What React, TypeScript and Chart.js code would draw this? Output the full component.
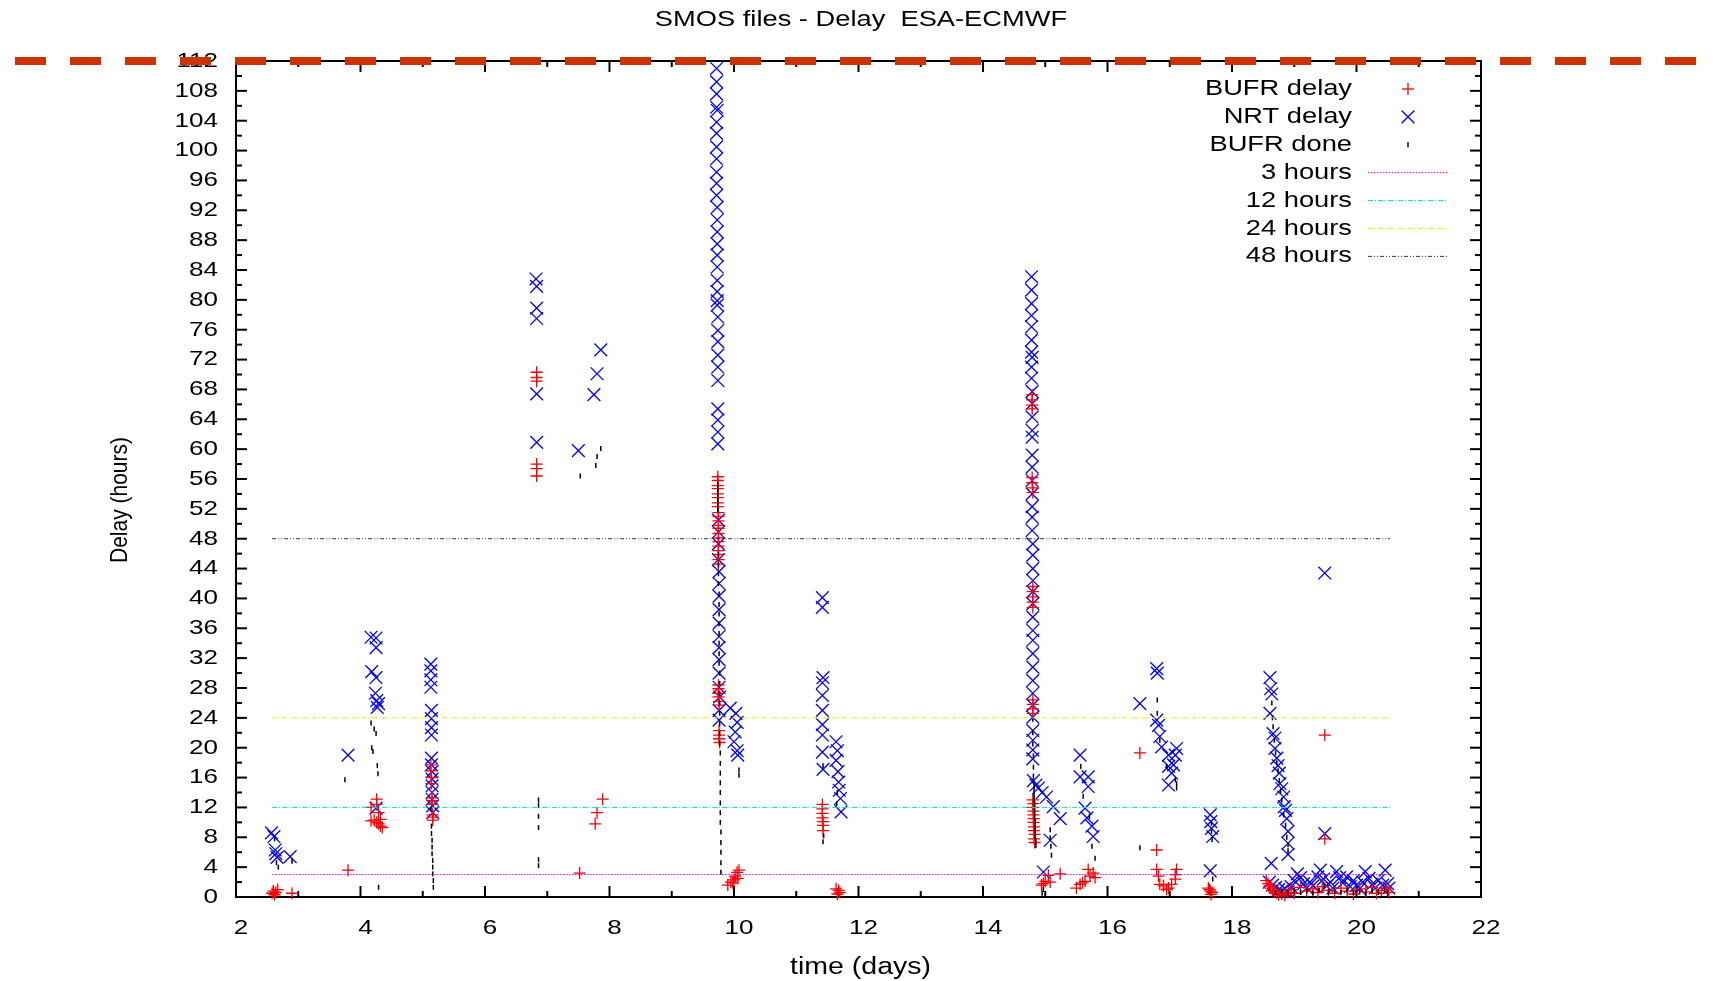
import { useEffect, useRef } from 'react';
import { Chart, registerables } from 'chart.js';

Chart.register(...registerables);

const W = 1714;
const H = 981;
const FONT = '"Liberation Sans", Arial, sans-serif';
const STRETCH = 1.24;

const chartTitle = 'SMOS files - Delay  ESA-ECMWF';
const xTitle = 'time (days)';
const yTitle = 'Delay (hours)';

const xRange = [2, 22];
const yRange = [0, 112];
const xStep = 2;
const yStep = 4;

// BUFR delay (red +)
const bufrDelay: [number, number][] = [
  [2.58, 0.5], [2.6, 0.8], [2.62, 0.3], [2.64, 0.6], [2.67, 1.0], [2.9, 0.5],
  [3.8, 3.6], [4.17, 12.0], [4.26, 13.1], [4.26, 12.4], [4.29, 11.3], [4.32, 10.4], [4.32, 9.5],
  [4.26, 10.0], [4.29, 9.8], [4.35, 9.3], [4.17, 10.2], [4.22, 10.3],
  [5.13, 17.7], [5.13, 16.9], [5.14, 16.0], [5.14, 15.2], [5.15, 13.3], [5.15, 12.9], [5.15, 12.4],
  [5.16, 11.0], [5.16, 10.7], [5.16, 10.3],
  [6.83, 70.3], [6.83, 69.6], [6.83, 69.1], [6.83, 58.0], [6.83, 57.4], [6.83, 56.4],
  [7.52, 3.2], [7.77, 9.8], [7.8, 11.3], [7.89, 13.1],
  [9.74, 56.3], [9.74, 55.8], [9.74, 55.1], [9.74, 54.7], [9.74, 54.0], [9.74, 53.5], [9.74, 52.8],
  [9.74, 52.3], [9.75, 51.5], [9.75, 51.0], [9.75, 50.4], [9.75, 49.8], [9.75, 49.4], [9.75, 48.7],
  [9.75, 48.1], [9.75, 47.6], [9.75, 47.0], [9.75, 46.4], [9.75, 45.9], [9.75, 45.2], [9.75, 44.6],
  [9.75, 28.4], [9.75, 27.9], [9.75, 27.3], [9.75, 26.8], [9.76, 26.2], [9.76, 25.7],
  [9.76, 22.3], [9.76, 21.7], [9.76, 21.2], [9.77, 20.7],
  [9.9, 1.6], [9.95, 2.0], [10.0, 2.3], [10.02, 2.8], [10.05, 3.3], [10.06, 2.5], [10.08, 3.6], [9.98, 1.9],
  [11.42, 12.4], [11.42, 11.8], [11.42, 11.2], [11.42, 10.6], [11.43, 10.1], [11.43, 9.6], [11.43, 8.9],
  [11.64, 1.1], [11.7, 0.6], [11.68, 0.9], [11.66, 0.4],
  [14.79, 67.3], [14.79, 66.6], [14.79, 65.9], [14.79, 65.4], [14.79, 56.2], [14.79, 55.5], [14.8, 54.8],
  [14.8, 54.2], [14.8, 41.6], [14.8, 40.9], [14.8, 40.2], [14.8, 39.5], [14.8, 38.8],
  [14.8, 26.4], [14.8, 25.8], [14.8, 25.2], [14.8, 24.6],
  [14.8, 13.0], [14.81, 12.5], [14.8, 12.0], [14.81, 11.5], [14.81, 11.0], [14.82, 10.5], [14.81, 10.0],
  [14.82, 9.4], [14.82, 8.9], [14.83, 8.4], [14.82, 7.8], [14.83, 7.3],
  [14.94, 1.6], [14.97, 1.8], [15.0, 2.1], [15.05, 2.9], [15.08, 2.0], [15.24, 3.1],
  [15.5, 1.2], [15.56, 1.7], [15.6, 1.9], [15.64, 2.1], [15.69, 3.7], [15.72, 2.8], [15.77, 3.2], [15.8, 2.6],
  [16.52, 19.3], [16.79, 6.3], [16.79, 3.7], [16.82, 2.8], [16.84, 1.7], [16.9, 1.5], [16.98, 1.2],
  [17.03, 1.7], [17.11, 3.7], [17.09, 3.0], [17.09, 2.4], [16.95, 1.0],
  [17.62, 1.2], [17.65, 0.8], [17.66, 0.35], [17.64, 1.0], [17.68, 0.6],
  [19.49, 21.7], [19.49, 7.8],
  [18.55, 2.2], [18.58, 1.8], [18.6, 1.5], [18.62, 1.2], [18.65, 0.9], [18.68, 0.7], [18.72, 0.5],
  [18.75, 0.3], [18.8, 0.4], [18.85, 0.2], [18.9, 0.6], [18.95, 1.0], [19.0, 0.5], [19.1, 1.3],
  [19.2, 0.8], [19.3, 1.1], [19.38, 0.6], [19.45, 1.4], [19.55, 0.9], [19.65, 0.5], [19.75, 1.2],
  [19.85, 0.8], [19.95, 0.4], [20.05, 1.1], [20.15, 0.7], [20.25, 1.3], [20.32, 0.5], [20.4, 0.9],
  [20.48, 1.2], [20.52, 0.6],
];

// NRT delay (blue x)
const nrtDelay: [number, number][] = [
  [2.57, 8.6], [2.61, 8.1], [2.63, 6.3], [2.66, 5.3], [2.64, 5.8], [2.87, 5.4],
  [3.8, 19.0], [4.17, 34.8], [4.25, 34.7], [4.25, 33.4], [4.18, 30.2], [4.25, 29.4], [4.24, 27.3],
  [4.26, 26.3], [4.27, 25.4], [4.29, 25.9], [4.25, 11.9],
  [5.13, 31.2], [5.13, 30.3], [5.13, 29.1], [5.13, 28.1], [5.14, 25.0], [5.14, 23.9], [5.14, 22.7],
  [5.14, 21.7], [5.14, 18.6], [5.14, 17.7], [5.15, 16.8], [5.15, 15.8], [5.15, 14.9], [5.15, 14.0],
  [5.15, 13.1], [5.16, 12.2], [5.16, 11.3],
  [6.82, 82.8], [6.83, 81.8], [6.83, 78.9], [6.83, 77.5], [6.83, 67.4], [6.83, 60.9],
  [7.5, 59.8], [7.75, 67.3], [7.8, 70.1], [7.86, 73.3],
  [9.72, 111.0], [9.72, 109.2], [9.72, 107.6], [9.72, 105.8], [9.73, 105.4], [9.72, 103.8], [9.72, 102.3],
  [9.72, 100.5], [9.72, 98.9], [9.72, 97.1], [9.72, 95.6], [9.72, 94.0], [9.73, 92.4], [9.73, 90.7],
  [9.73, 89.1], [9.73, 87.5], [9.73, 86.0], [9.73, 84.4], [9.73, 82.6], [9.73, 81.1], [9.73, 79.9],
  [9.73, 79.3], [9.74, 77.7], [9.74, 75.9], [9.74, 74.4], [9.74, 72.6], [9.74, 71.0], [9.74, 69.2],
  [9.74, 65.4], [9.74, 63.9], [9.74, 62.3], [9.74, 60.7],
  [9.75, 50.5], [9.75, 48.9], [9.75, 47.3], [9.75, 45.2], [9.76, 43.6], [9.76, 42.0], [9.76, 40.3],
  [9.76, 38.5], [9.76, 36.7], [9.76, 34.9], [9.76, 33.4], [9.76, 31.8], [9.76, 30.0], [9.76, 28.1],
  [9.77, 26.8], [9.76, 25.0], [9.76, 23.7],
  [9.94, 25.3], [10.03, 24.6], [10.05, 23.4], [10.02, 22.1], [10.0, 20.8], [10.05, 19.6], [10.06, 19.0],
  [11.42, 40.1], [11.42, 38.8], [11.43, 29.4], [11.42, 28.7], [11.42, 27.0], [11.42, 25.0], [11.42, 23.1],
  [11.42, 21.7], [11.42, 19.4], [11.43, 17.1], [11.64, 20.8], [11.66, 19.6], [11.64, 18.3], [11.67, 16.8],
  [11.68, 15.4], [11.69, 14.3], [11.71, 13.2], [11.72, 11.4],
  [14.78, 83.1], [14.78, 81.3], [14.78, 79.5], [14.78, 77.9], [14.78, 76.4], [14.78, 74.6], [14.78, 73.0],
  [14.79, 72.3], [14.78, 71.0], [14.78, 69.5], [14.79, 67.7], [14.79, 66.1], [14.79, 64.3], [14.79, 62.5],
  [14.79, 61.6], [14.79, 59.2], [14.79, 57.6], [14.79, 55.8], [14.79, 54.0], [14.79, 52.3], [14.79, 50.9],
  [14.79, 49.1], [14.8, 47.3], [14.8, 45.8], [14.8, 44.0], [14.8, 42.4], [14.8, 40.9], [14.8, 39.3],
  [14.8, 37.5], [14.8, 35.7], [14.8, 34.4], [14.8, 32.6], [14.8, 30.8], [14.8, 29.0], [14.8, 27.3],
  [14.8, 25.7], [14.8, 24.1], [14.8, 22.3], [14.8, 21.0], [14.8, 19.7], [14.8, 18.5],
  [14.81, 15.6], [14.85, 15.0], [14.89, 14.6], [14.95, 14.0], [15.02, 13.4], [15.13, 12.1], [15.24, 10.5],
  [15.08, 7.6], [14.97, 3.35],
  [15.56, 19.0], [15.56, 16.1], [15.69, 16.1], [15.69, 14.8], [15.64, 11.9], [15.67, 10.6], [15.75, 9.5],
  [15.77, 8.1],
  [16.52, 25.9], [16.79, 30.6], [16.8, 30.0], [16.79, 23.7], [16.82, 23.0], [16.84, 21.5], [16.87, 20.1],
  [16.98, 19.0], [17.09, 19.0], [17.11, 19.9], [16.98, 17.5], [17.06, 17.7], [16.98, 15.0], [17.03, 16.6],
  [17.65, 11.0], [17.66, 10.1], [17.67, 9.2], [17.69, 8.1], [17.65, 3.5],
  [18.61, 29.4], [18.62, 27.9], [18.64, 27.2], [18.61, 24.6], [18.66, 21.9], [18.69, 21.3], [18.69, 19.9],
  [18.72, 18.6], [18.74, 17.6], [18.76, 16.6], [18.77, 15.2], [18.8, 14.5], [18.83, 13.4], [18.84, 12.1],
  [18.86, 11.6], [18.88, 10.5], [18.9, 8.8], [18.9, 7.2], [18.9, 5.7], [18.63, 4.5],
  [19.49, 43.4], [19.49, 8.5],
  [18.6, 2.0], [18.65, 1.6], [18.7, 1.3], [18.75, 1.0], [18.8, 0.8], [18.85, 1.1], [18.9, 0.7],
  [18.95, 1.4], [19.0, 2.2], [19.05, 3.1], [19.1, 2.6], [19.15, 1.8], [19.2, 1.2], [19.25, 2.0],
  [19.3, 1.5], [19.38, 2.7], [19.42, 3.6], [19.47, 2.4], [19.52, 1.5], [19.58, 2.0], [19.62, 1.2],
  [19.68, 3.4], [19.73, 2.6], [19.78, 1.9], [19.84, 2.7], [19.9, 1.4], [19.95, 2.2], [20.0, 1.6],
  [20.05, 1.1], [20.1, 2.0], [20.14, 3.4], [20.2, 2.5], [20.25, 1.7], [20.3, 1.2], [20.35, 2.2],
  [20.42, 1.6], [20.46, 3.6], [20.5, 1.8], [20.52, 1.2],
];

// BUFR done (black ticks)
const bufrDone: [number, number][] = [
  [2.62, 7.8], [2.65, 4.6], [2.68, 4.0], [2.9, 4.8],
  [3.75, 15.7], [4.17, 23.3], [4.18, 20.0], [4.25, 21.9], [4.27, 17.6], [4.28, 16.5], [4.29, 1.3],
  [4.2, 19.5], [4.22, 22.5],
  [5.13, 11.8], [5.14, 9.5], [5.14, 8.5], [5.15, 7.6], [5.15, 6.7], [5.15, 5.8], [5.16, 4.9], [5.16, 4.0],
  [5.16, 3.1], [5.17, 2.2], [5.17, 1.3],
  [6.86, 13.0], [6.86, 12.3], [6.86, 10.8], [6.86, 9.3], [6.86, 5.0], [6.86, 4.2],
  [7.53, 56.4], [7.78, 57.8], [7.8, 59.0], [7.86, 60.1],
  [9.74, 55.3], [9.74, 54.6], [9.74, 53.9], [9.74, 53.2], [9.74, 52.5], [9.74, 51.8],
  [9.75, 45.9], [9.75, 44.5], [9.75, 43.3], [9.75, 42.0], [9.76, 40.6], [9.76, 39.2], [9.76, 37.9],
  [9.76, 36.6], [9.76, 35.3], [9.76, 34.0], [9.76, 32.6], [9.76, 31.3], [9.77, 30.0], [9.77, 28.6],
  [9.77, 27.3], [9.77, 26.0], [9.77, 24.6], [9.77, 23.2], [9.77, 21.9], [9.77, 20.6], [9.78, 19.3],
  [9.78, 17.9], [9.78, 16.6], [9.78, 15.3], [9.78, 14.0], [9.78, 12.6], [9.78, 11.3], [9.78, 10.0],
  [9.79, 8.7], [9.79, 7.3], [9.79, 6.0], [9.79, 4.6], [9.79, 3.3],
  [10.08, 17.0], [10.08, 16.3],
  [11.43, 17.6], [11.43, 7.4], [11.44, 8.2], [11.66, 14.0], [11.65, 12.5],
  [14.8, 23.8], [14.8, 22.0], [14.8, 20.5], [14.81, 18.9], [14.81, 17.4], [14.81, 16.2], [14.81, 15.5],
  [14.82, 14.9], [14.82, 14.3], [14.82, 13.7], [14.82, 13.1], [14.83, 12.5], [14.83, 11.9], [14.83, 11.3],
  [14.83, 10.7], [14.84, 10.1], [14.84, 9.4], [14.84, 8.8], [14.84, 8.1], [14.85, 7.5], [14.85, 6.9],
  [15.08, 9.0], [15.08, 7.9], [15.09, 6.8], [15.1, 5.6], [14.97, 1.0], [14.95, 0.5],
  [15.57, 17.5], [15.61, 13.5], [15.71, 10.8], [15.75, 6.8], [15.8, 5.2], [16.52, 6.6], [16.8, 26.4],
  [16.8, 24.6], [16.84, 21.0], [16.95, 17.5], [17.09, 15.7], [17.11, 15.2], [17.11, 14.6],
  [17.67, 9.9], [17.67, 8.8], [17.68, 7.7], [17.69, 2.4],
  [18.64, 26.0], [18.65, 24.0], [18.66, 22.8], [18.68, 21.0], [18.7, 19.3], [18.72, 18.0], [18.74, 16.9],
  [18.76, 15.6], [18.78, 14.2], [18.8, 13.0], [18.83, 11.0], [18.86, 9.6], [18.88, 8.0], [18.9, 7.0],
  [18.9, 6.2],
  [18.7, 0.6], [18.8, 0.8], [18.9, 0.5], [19.0, 0.9], [19.1, 0.6], [19.2, 0.8], [19.3, 0.5], [19.4, 0.9],
  [19.48, 1.5], [19.55, 0.7], [19.65, 0.8], [19.75, 0.6], [19.85, 0.9], [19.95, 0.6], [20.05, 0.8],
  [20.15, 0.5], [20.25, 0.9], [20.35, 0.6], [20.45, 0.8], [20.5, 0.5],
];

// Reference lines
const hourLevels = [3, 12, 24, 48];
const hourLabels = ['3 hours', '12 hours', '24 hours', '48 hours'];
const hourColors = ['rgb(225,0,225)', 'rgb(0,225,225)', 'rgb(235,235,0)', 'rgb(50,50,50)'];
const hourDashes = [[1.5, 1.5], [5, 2, 1, 2], [5, 2, 1, 2], [4, 2, 1, 2, 1, 2]];
const lineSpan = [2.58, 20.54];
const capLevel = 112;

const seriesLabels = ['BUFR delay', 'NRT delay', 'BUFR done'];
const seriesColors = ['#ff0000', '#0000ff', '#000000'];

function line(ctx: CanvasRenderingContext2D, x1: number, y1: number, x2: number, y2: number) {
  ctx.beginPath();
  ctx.moveTo(x1, y1);
  ctx.lineTo(x2, y2);
  ctx.stroke();
}

// the reference's lettering is horizontally widened; widen every text drawn on this canvas
function installStretch(ctx: any) {
  if (ctx.__origFillText) return;
  const orig = ctx.fillText;
  ctx.__origFillText = orig;
  ctx.fillText = function (text: string, x: number, y: number) {
    this.save();
    this.translate(x, y);
    this.scale(STRETCH, 1);
    orig.call(this, text, 0, 0);
    this.restore();
  };
}

const gnuPlugin = {
  id: 'gnuStyle',
  beforeInit(chart: any) {
    installStretch(chart.ctx);
  },
  beforeDatasetsDraw(chart: any) {
    const { ctx, chartArea: a, scales } = chart;
    const xs = scales.x;
    const ys = scales.y;
    ctx.save();
    ctx.strokeStyle = '#000';
    ctx.lineWidth = 2;
    ctx.strokeRect(a.left, a.top, a.right - a.left, a.bottom - a.top);
    const yVals = ys.ticks.map((t: any) => t.value);
    yVals.forEach((v: number, i: number) => {
      const p = ys.getPixelForValue(v);
      line(ctx, a.left, p, a.left + 11, p);
      line(ctx, a.right, p, a.right - 11, p);
      if (i < yVals.length - 1) {
        const m = ys.getPixelForValue((v + yVals[i + 1]) / 2);
        line(ctx, a.left, m, a.left + 6, m);
        line(ctx, a.right, m, a.right - 6, m);
      }
    });
    const xVals = xs.ticks.map((t: any) => t.value);
    xVals.forEach((v: number, i: number) => {
      const p = xs.getPixelForValue(v);
      line(ctx, p, a.bottom, p, a.bottom - 11);
      line(ctx, p, a.top, p, a.top + 11);
      if (i < xVals.length - 1) {
        const m = xs.getPixelForValue((v + xVals[i + 1]) / 2);
        line(ctx, m, a.bottom, m, a.bottom - 6);
        line(ctx, m, a.top, m, a.top + 6);
      }
    });
    ctx.restore();
  },
  afterDraw(chart: any) {
    const { ctx, chartArea: a, scales } = chart;
    ctx.save();
    ctx.fillStyle = '#000';
    ctx.textAlign = 'center';
    ctx.textBaseline = 'middle';
    // title
    ctx.font = `22px ${FONT}`;
    ctx.fillText(chartTitle, 861, 20);
    // x title
    ctx.font = `23px ${FONT}`;
    ctx.fillText(xTitle, (a.left + a.right) / 2 + 2, 968);
    // y title (rotated; widened across its height)
    ctx.save();
    ctx.font = `21px ${FONT}`;
    ctx.translate(120, 500);
    ctx.scale(1.18, 1);
    ctx.rotate(-Math.PI / 2);
    ctx.__origFillText.call(ctx, yTitle, 0, 0);
    ctx.restore();

    // legend
    const textRight = 1352;
    const sx = 1408;
    const rowY = (i: number) => 89 + i * 27.9;
    ctx.textAlign = 'right';
    ctx.font = `22px ${FONT}`;
    const labels = [...seriesLabels, ...hourLabels];
    labels.forEach((l, i) => ctx.fillText(l, textRight, rowY(i)));
    ctx.lineWidth = 1.3;
    ctx.strokeStyle = seriesColors[0];
    line(ctx, sx - 6, rowY(0), sx + 6, rowY(0));
    line(ctx, sx, rowY(0) - 6, sx, rowY(0) + 6);
    ctx.strokeStyle = seriesColors[1];
    line(ctx, sx - 6.4, rowY(1) - 6.4, sx + 6.4, rowY(1) + 6.4);
    line(ctx, sx - 6.4, rowY(1) + 6.4, sx + 6.4, rowY(1) - 6.4);
    ctx.strokeStyle = seriesColors[2];
    ctx.lineWidth = 1.5;
    line(ctx, sx, rowY(2) - 2.5, sx, rowY(2) + 2.5);
    ctx.lineWidth = 1;
    hourColors.forEach((c, i) => {
      ctx.strokeStyle = c;
      ctx.setLineDash(hourDashes[i]);
      line(ctx, 1368, rowY(3 + i), 1448, rowY(3 + i));
    });
    ctx.setLineDash([]);

    // thick dashed cap line at 112
    const yc = scales.y.getPixelForValue(capLevel);
    ctx.strokeStyle = 'rgb(204,51,0)';
    ctx.lineWidth = 8;
    ctx.lineCap = 'butt';
    ctx.setLineDash([31, 24]);
    line(ctx, 15, yc, W, yc);
    ctx.restore();
  },
};

export default function App() {
  const ref = useRef<HTMLCanvasElement | null>(null);
  useEffect(() => {
    if (!ref.current) return;
    const pts = (arr: [number, number][]) => arr.map(([x, y]) => ({ x, y }));
    const hourSets = hourLevels.map((h, i) => ({
      type: 'line' as const,
      label: hourLabels[i],
      data: [{ x: lineSpan[0], y: h }, { x: lineSpan[1], y: h }],
      borderColor: hourColors[i],
      borderWidth: 1,
      borderDash: hourDashes[i],
      pointRadius: 0,
      showLine: true,
      fill: false,
    }));
    const chart = new Chart(ref.current, {
      type: 'scatter',
      data: {
        datasets: [
          ...hourSets,
          {
            label: seriesLabels[2],
            data: pts(bufrDone),
            pointStyle: 'line',
            pointRotation: 90,
            pointRadius: 2.5,
            borderColor: seriesColors[2],
            backgroundColor: seriesColors[2],
            borderWidth: 1.5,
            clip: false,
          },
          {
            label: seriesLabels[0],
            data: pts(bufrDelay),
            pointStyle: 'cross',
            pointRadius: 6,
            borderColor: seriesColors[0],
            backgroundColor: seriesColors[0],
            borderWidth: 1.3,
            clip: false,
          },
          {
            label: seriesLabels[1],
            data: pts(nrtDelay),
            pointStyle: 'crossRot',
            pointRadius: 9,
            borderColor: seriesColors[1],
            backgroundColor: seriesColors[1],
            borderWidth: 1.3,
            clip: false,
          },
        ] as any,
      },
      options: {
        responsive: false,
        animation: false,
        devicePixelRatio: 1,
        layout: { padding: { left: 0, top: 61, right: 233, bottom: 0 } },
        plugins: { legend: { display: false }, tooltip: { enabled: false }, title: { display: false } },
        scales: {
          x: {
            type: 'linear',
            min: xRange[0],
            max: xRange[1],
            grid: { display: false, drawTicks: false },
            border: { display: false },
            ticks: { stepSize: xStep, color: '#000', font: { family: FONT, size: 21 }, padding: 19, labelOffset: 5, autoSkip: false, maxRotation: 0 },
            afterFit: (s: any) => { s.height = 84; },
          },
          y: {
            type: 'linear',
            min: yRange[0],
            max: yRange[1],
            grid: { display: false, drawTicks: false },
            border: { display: false },
            ticks: { stepSize: yStep, color: '#000', font: { family: FONT, size: 21 }, padding: 18, autoSkip: false },
            afterFit: (s: any) => { s.width = 236; },
          },
        },
      },
      plugins: [gnuPlugin],
    });
    return () => chart.destroy();
  }, []);
  return (
    <div style={{ position: 'absolute', left: 0, top: 0, width: W, height: H, background: '#fff' }}>
      <canvas ref={ref} width={W} height={H} style={{ display: 'block', width: W, height: H }} />
    </div>
  );
}
